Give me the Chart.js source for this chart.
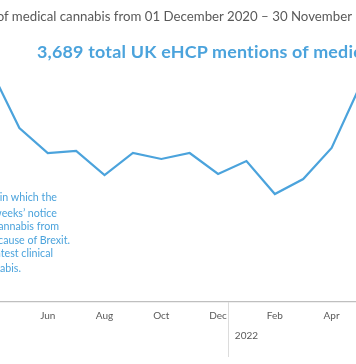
<!DOCTYPE html>
<html>
<head>
<meta charset="utf-8">
<script src="https://cdn.jsdelivr.net/npm/chart.js@4/dist/chart.umd.min.js"></script>
<style>
  html, body { margin:0; padding:0; background:#ffffff; }
  body { width:356px; height:364px; overflow:hidden; position:relative; font-family: Lato, "Open Sans", sans-serif; }
  #wrap { position:absolute; left:-13px; top:0; width:377px; height:364px; }
  .t { position:absolute; white-space:nowrap; }
  #title { right:4px; top:7px; font-size:13.25px; color:#595959; line-height:18px; }
  #sub { left:37px; top:40px; font-size:17.9px; letter-spacing:0.2px; font-weight:bold; color:#4BA3DC; line-height:22px; }
  .note { font-size:10.7px; color:#4BA3DC; line-height:14px; }
</style>
</head>
<body>
<div id="wrap"><canvas id="c"></canvas></div>
<div class="t" id="title">UK eHCP mentions of medical cannabis from 01 December 2020 – 30 November<span style="position:absolute;left:100%;white-space:pre"> 2022</span></div>
<div class="t" id="sub">3,689 total UK eHCP mentions of medical cannabis</div>
<div class="t note" style="right:299px; top:190px;">The spike coincides with the period in which the</div>
<div class="t note" style="right:299px; top:206px;">Dutch government gave just two weeks’ notice</div>
<div class="t note" style="right:297px; top:219px;">that it would stop the supply of medical cannabis from</div>
<div class="t note" style="right:286px; top:233px;">the Netherlands to UK patients because of Brexit.</div>
<div class="t note" style="right:303px; top:246px;">It also saw the publication of the latest clinical</div>
<div class="t note" style="right:335px; top:261px;">evidence on medical cannabis.</div>
<script>
// Months visible in the crop (Apr 2021 – May 2022)
const months = ['Apr','May','Jun','Jul','Aug','Sep','Oct','Nov','Dec','Jan','Feb','Mar','Apr','May'];
const years  = [2021,2021,2021,2021,2021,2021,2021,2021,2021,2022,2022,2022,2022,2022];
// Mentions per month
const mentions = [232,174,149,151,127,149,143,149,128,141,108,123,154,216];
// Which month labels are printed on the axis
const shownLabels = ['','','Jun','','Aug','','Oct','','Dec','','Feb','','Apr',''];
const yearLabels  = ['','','','','','','','','','2022','','','',''];

const blue = '#4BA3DC';

const dividerPlugin = {
  id: 'divider',
  afterDraw(chart) {
    const x = chart.scales.x;
    const p1 = x.getPixelForValue(8), p2 = x.getPixelForValue(9);
    const px = Math.round(p1 + (p2 - p1) * 0.36) + 0.5;
    const ctx = chart.ctx;
    ctx.save();
    ctx.strokeStyle = '#dcdcdc';
    ctx.lineWidth = 1;
    ctx.beginPath();
    ctx.moveTo(px, chart.chartArea.bottom);
    ctx.lineTo(px, chart.chartArea.bottom + 55);
    ctx.stroke();
    ctx.restore();
  }
};

new Chart(document.getElementById('c'), {
  type: 'line',
  data: {
    labels: months.map((m, i) => m + ' ' + years[i]),
    datasets: [{
      data: mentions,
      borderColor: blue,
      borderWidth: 2.2,
      pointRadius: 0,
      tension: 0,
      fill: false
    }]
  },
  options: {
    responsive: true,
    maintainAspectRatio: false,
    animation: false,
    events: [],
    layout: { padding: 0 },
    plugins: { legend: { display: false }, tooltip: { enabled: false }, title: { display: false } },
    scales: {
      y: { display: false, min: 0, max: 302 },
      x: {
        offset: false,
        afterFit(scale) { scale.height = 62; },
        grid: { display: false, drawTicks: false },
        border: { display: true, color: '#bfbfbf', width: 1.3 },
        ticks: {
          autoSkip: false,
          maxRotation: 0,
          padding: 4,
          color: '#595959',
          font: { family: 'Lato', size: 10, lineHeight: 2 },
          callback(v, i) {
            if (yearLabels[i]) return ['', yearLabels[i]];
            return shownLabels[i];
          }
        }
      }
    }
  },
  plugins: [dividerPlugin]
});
</script>
</body>
</html>
